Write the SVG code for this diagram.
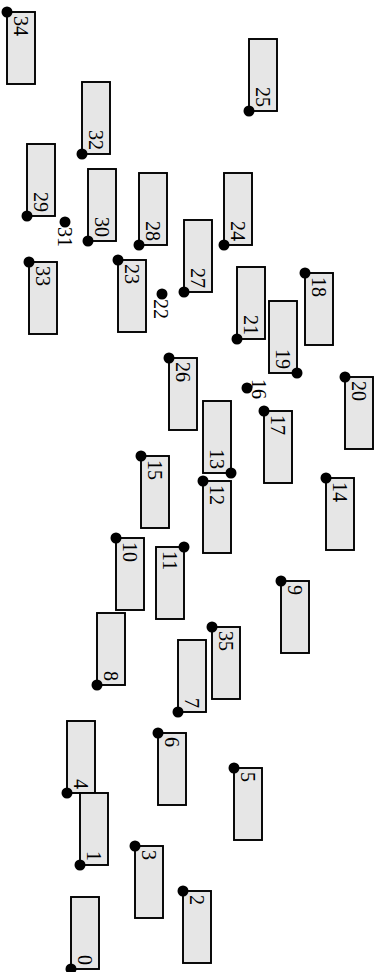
<svg xmlns="http://www.w3.org/2000/svg" width="379" height="972" viewBox="0 0 379 972">
<style>
rect.b{fill:#e6e6e6;stroke:#000;stroke-width:1.9}
circle.d{fill:#000}
text{font-family:"Liberation Serif","Times New Roman",serif;font-size:20px;fill:#000;dominant-baseline:central}
text.s{text-anchor:start}
text.e{text-anchor:end}
</style>
<rect width="379" height="972" fill="#fff"/>
<g id="connectors"></g>
<g id="n34"><rect class="b" x="7" y="12" width="28" height="72"/><circle class="d" cx="7" cy="12" r="5.5"/><text class="s" transform="translate(21,16) rotate(90)">34</text></g>
<g id="n32"><rect class="b" x="82" y="82" width="28" height="72"/><circle class="d" cx="82" cy="154" r="5.5"/><text class="e" transform="translate(96,150) rotate(90)">32</text></g>
<g id="n25"><rect class="b" x="249" y="39" width="28" height="72"/><circle class="d" cx="249" cy="111" r="5.5"/><text class="e" transform="translate(263,107) rotate(90)">25</text></g>
<g id="n29"><rect class="b" x="27" y="144" width="28" height="72"/><circle class="d" cx="27" cy="216" r="5.5"/><text class="e" transform="translate(41,212) rotate(90)">29</text></g>
<g id="n30"><rect class="b" x="88" y="169" width="28" height="72"/><circle class="d" cx="88" cy="241" r="5.5"/><text class="e" transform="translate(102,237) rotate(90)">30</text></g>
<g id="n28"><rect class="b" x="139" y="173" width="28" height="72"/><circle class="d" cx="139" cy="245" r="5.5"/><text class="e" transform="translate(153,241) rotate(90)">28</text></g>
<g id="n24"><rect class="b" x="224" y="173" width="28" height="72"/><circle class="d" cx="224" cy="245" r="5.5"/><text class="e" transform="translate(238,241) rotate(90)">24</text></g>
<g id="n31"><circle class="d" cx="65" cy="222" r="5.5"/><text class="s" transform="translate(65,227) rotate(90)">31</text></g>
<g id="n33"><rect class="b" x="29" y="262" width="28" height="72"/><circle class="d" cx="29" cy="262" r="5.5"/><text class="s" transform="translate(43,266) rotate(90)">33</text></g>
<g id="n23"><rect class="b" x="118" y="260" width="28" height="72"/><circle class="d" cx="118" cy="260" r="5.5"/><text class="s" transform="translate(132,264) rotate(90)">23</text></g>
<g id="n27"><rect class="b" x="184" y="220" width="28" height="72"/><circle class="d" cx="184" cy="292" r="5.5"/><text class="e" transform="translate(198,288) rotate(90)">27</text></g>
<g id="n22"><circle class="d" cx="162" cy="294" r="5.5"/><text class="s" transform="translate(161,299) rotate(90)">22</text></g>
<g id="n21"><rect class="b" x="237" y="267" width="28" height="72"/><circle class="d" cx="237" cy="339" r="5.5"/><text class="e" transform="translate(251,335) rotate(90)">21</text></g>
<g id="n19"><rect class="b" x="269" y="301" width="28" height="72"/><circle class="d" cx="297" cy="373" r="5.5"/><text class="e" transform="translate(283,369) rotate(90)">19</text></g>
<g id="n18"><rect class="b" x="305" y="273" width="28" height="72"/><circle class="d" cx="305" cy="273" r="5.5"/><text class="s" transform="translate(319,277) rotate(90)">18</text></g>
<g id="n26"><rect class="b" x="169" y="358" width="28" height="72"/><circle class="d" cx="169" cy="358" r="5.5"/><text class="s" transform="translate(183,362) rotate(90)">26</text></g>
<g id="n16"><circle class="d" cx="247" cy="388" r="5.5"/><text transform="translate(252,389) rotate(90)" style="text-anchor:middle;dominant-baseline:alphabetic">16</text></g>
<g id="n20"><rect class="b" x="345" y="377" width="28" height="72"/><circle class="d" cx="345" cy="377" r="5.5"/><text class="s" transform="translate(359,381) rotate(90)">20</text></g>
<g id="n13"><rect class="b" x="203" y="401" width="28" height="72"/><circle class="d" cx="231" cy="473" r="5.5"/><text class="e" transform="translate(217,469) rotate(90)">13</text></g>
<g id="n17"><rect class="b" x="264" y="411" width="28" height="72"/><circle class="d" cx="264" cy="411" r="5.5"/><text class="s" transform="translate(278,415) rotate(90)">17</text></g>
<g id="n15"><rect class="b" x="141" y="456" width="28" height="72"/><circle class="d" cx="141" cy="456" r="5.5"/><text class="s" transform="translate(155,460) rotate(90)">15</text></g>
<g id="n12"><rect class="b" x="203" y="481" width="28" height="72"/><circle class="d" cx="203" cy="481" r="5.5"/><text class="s" transform="translate(217,485) rotate(90)">12</text></g>
<g id="n14"><rect class="b" x="326" y="478" width="28" height="72"/><circle class="d" cx="326" cy="478" r="5.5"/><text class="s" transform="translate(340,482) rotate(90)">14</text></g>
<g id="n10"><rect class="b" x="116" y="538" width="28" height="72"/><circle class="d" cx="116" cy="538" r="5.5"/><text class="s" transform="translate(130,542) rotate(90)">10</text></g>
<g id="n11"><rect class="b" x="156" y="547" width="28" height="72"/><circle class="d" cx="184" cy="547" r="5.5"/><text class="s" transform="translate(170,551) rotate(90)">11</text></g>
<g id="n9"><rect class="b" x="281" y="581" width="28" height="72"/><circle class="d" cx="281" cy="581" r="5.5"/><text class="s" transform="translate(295,585) rotate(90)">9</text></g>
<g id="n8"><rect class="b" x="97" y="613" width="28" height="72"/><circle class="d" cx="97" cy="685" r="5.5"/><text class="e" transform="translate(111,681) rotate(90)">8</text></g>
<g id="n35"><rect class="b" x="212" y="627" width="28" height="72"/><circle class="d" cx="212" cy="627" r="5.5"/><text class="s" transform="translate(226,631) rotate(90)">35</text></g>
<g id="n7"><rect class="b" x="178" y="640" width="28" height="72"/><circle class="d" cx="178" cy="712" r="5.5"/><text class="e" transform="translate(192,708) rotate(90)">7</text></g>
<g id="n4"><rect class="b" x="67" y="721" width="28" height="72"/><circle class="d" cx="67" cy="793" r="5.5"/><text class="e" transform="translate(81,789) rotate(90)">4</text></g>
<g id="n6"><rect class="b" x="158" y="733" width="28" height="72"/><circle class="d" cx="158" cy="733" r="5.5"/><text class="s" transform="translate(172,737) rotate(90)">6</text></g>
<g id="n5"><rect class="b" x="234" y="768" width="28" height="72"/><circle class="d" cx="234" cy="768" r="5.5"/><text class="s" transform="translate(248,772) rotate(90)">5</text></g>
<g id="n1"><rect class="b" x="80" y="793" width="28" height="72"/><circle class="d" cx="80" cy="865" r="5.5"/><text class="e" transform="translate(94,861) rotate(90)">1</text></g>
<g id="n3"><rect class="b" x="135" y="846" width="28" height="72"/><circle class="d" cx="135" cy="846" r="5.5"/><text class="s" transform="translate(149,850) rotate(90)">3</text></g>
<g id="n2"><rect class="b" x="183" y="891" width="28" height="72"/><circle class="d" cx="183" cy="891" r="5.5"/><text class="s" transform="translate(197,895) rotate(90)">2</text></g>
<g id="n0"><rect class="b" x="71" y="897" width="28" height="72"/><circle class="d" cx="71" cy="969" r="5.5"/><text class="e" transform="translate(85,965) rotate(90)">0</text></g>
</svg>
